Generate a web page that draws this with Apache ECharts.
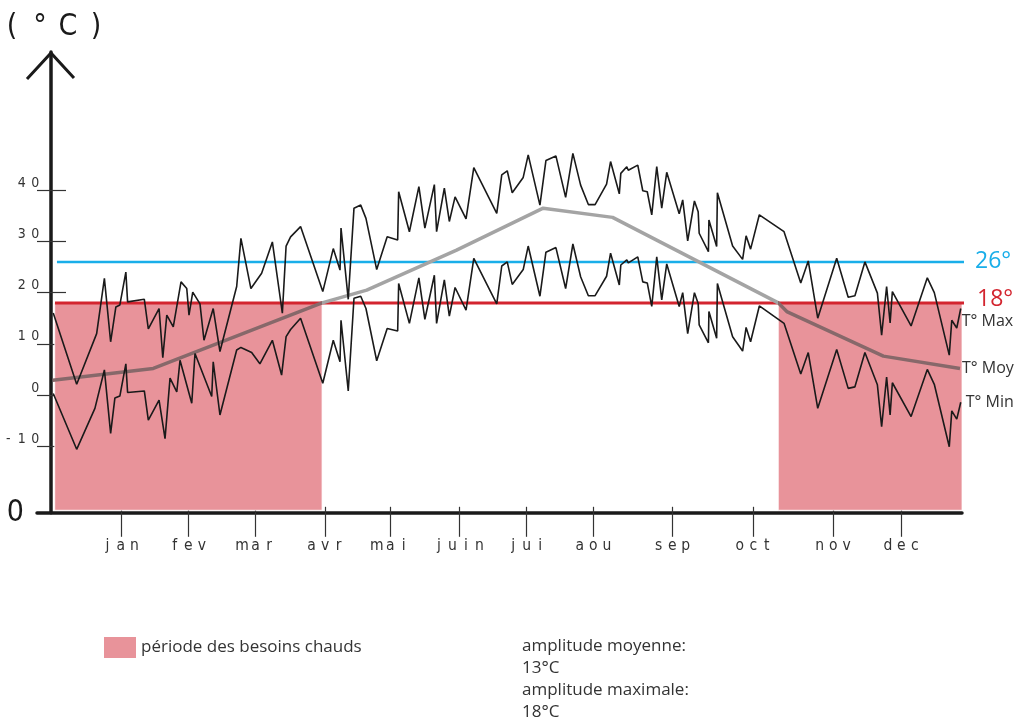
<!DOCTYPE html>
<html>
<head>
<meta charset="utf-8">
<script src="https://cdn.jsdelivr.net/npm/echarts@6/dist/echarts.min.js"></script>
<style>
  html, body { margin: 0; padding: 0; background: #fff; }
  #chart { width: 1025px; height: 719px; }
</style>
</head>
<body>
<div id="chart"></div>
<script>
// Mois (repères de l'axe horizontal, en jours depuis le début de l'année)
const moisNoms = ['jan', 'fev', 'mar', 'avr', 'mai', 'juin', 'jui', 'aou', 'sep', 'oct', 'nov', 'dec'];
const moisPositions = [28.0, 55.0, 82.0, 109.8, 135.9, 163.5, 190.6, 217.3, 248.9, 281.4, 313.4, 340.7];

// Graduations de l'axe des températures (°C)
const graduationsY = [-10, 0, 10, 20, 30, 40];

// Températures maximales
const joursMax = [0.9, 10.3, 18.3, 21.4, 23.9, 26.0, 27.6, 30.0, 30.7, 37.4, 39.0, 43.3, 44.8, 46.4, 49.0, 52.1, 54.4, 55.3, 56.8, 59.7,
  61.3, 65.0, 67.7, 74.4, 76.1, 80.1, 84.4, 88.7, 92.7, 94.2, 96.0, 100.0, 108.9, 113.1, 115.8, 116.2, 119.1, 121.4, 124.1, 126.2,
  130.5, 134.7, 138.9, 139.3, 143.6, 147.4, 149.8, 153.6, 154.5, 157.6, 159.6, 161.9, 166.3, 169.4, 178.6, 180.6, 182.8, 184.8, 189.2, 191.2,
  195.9, 198.3, 202.3, 206.2, 209.1, 212.2, 215.3, 218.0, 222.6, 224.2, 227.7, 228.3, 230.7, 231.3, 235.1, 237.1, 238.9, 240.7, 242.7, 244.7,
  246.7, 251.7, 253.1, 255.1, 257.8, 259.3, 259.7, 263.4, 263.6, 266.7, 267.0, 273.1, 277.1, 278.5, 280.3, 283.8, 293.7, 300.4, 303.4, 307.2,
  314.8, 319.4, 322.1, 326.1, 331.1, 332.8, 334.8, 336.2, 337.1, 344.6, 351.1, 353.9, 359.9, 360.9, 362.9, 364.5];
const tMax = [16.0, 2.1, 12.0, 22.8, 10.4, 17.2, 17.6, 24.0, 18.2, 18.7, 12.9, 16.9, 7.3, 15.6, 13.3, 22.1, 20.8, 15.6, 20.1, 17.8,
  10.7, 16.9, 8.5, 21.2, 30.6, 20.8, 23.8, 29.9, 16.0, 29.1, 30.9, 32.9, 20.2, 28.6, 24.4, 32.6, 18.7, 36.5, 37.1, 34.5,
  24.5, 30.9, 30.3, 39.7, 31.9, 40.7, 32.6, 41.1, 31.9, 40.4, 33.9, 38.7, 34.4, 44.4, 35.5, 43.0, 43.8, 39.5, 42.5, 46.9,
  37.1, 45.8, 46.7, 38.6, 47.2, 41.0, 37.2, 37.2, 41.2, 45.6, 39.3, 43.3, 44.6, 43.9, 44.9, 39.9, 39.7, 35.2, 44.6, 36.5,
  43.5, 35.4, 38.1, 30.1, 37.9, 35.8, 31.6, 28.0, 34.2, 29.0, 39.5, 29.1, 26.5, 31.1, 28.5, 35.2, 31.9, 21.9, 26.2, 15.0,
  26.7, 19.1, 19.4, 26.0, 19.9, 11.7, 21.2, 14.1, 20.2, 13.5, 22.9, 20.0, 7.8, 14.6, 13.1, 16.9];

// Températures minimales
const joursMin = [0.9, 10.3, 17.6, 21.4, 23.9, 25.6, 27.6, 30.0, 30.7, 37.4, 39.0, 43.3, 45.7, 47.7, 50.4, 51.7, 56.4, 57.7, 64.4, 65.0,
  67.7, 74.4, 76.1, 80.4, 83.7, 88.7, 92.4, 94.2, 96.0, 100.0, 108.9, 113.1, 115.8, 116.2, 119.1, 121.4, 124.1, 126.2,
  130.5, 134.7, 138.9, 139.3, 143.6, 147.4, 149.8, 153.6, 154.5, 157.6, 159.6, 161.9, 166.3, 169.4, 178.6, 180.6, 182.8, 184.8, 189.2, 191.2,
  195.9, 198.3, 202.3, 206.2, 209.1, 212.2, 215.3, 218.0, 222.6, 224.2, 227.7, 228.3, 230.7, 231.3, 235.1, 237.1, 238.9, 240.7, 242.7, 244.7,
  246.7, 251.7, 253.1, 255.1, 257.8, 259.3, 259.7, 263.4, 263.6, 266.7, 267.0, 273.1, 277.1, 278.5, 280.3, 283.8, 293.7, 300.4, 303.4, 307.2,
  314.8, 319.4, 322.1, 326.1, 331.1, 332.8, 334.8, 336.2, 337.1, 344.6, 351.1, 353.9, 359.9, 360.9, 362.9, 364.5];
const tMin = [0.3, -10.6, -2.6, 4.9, -7.5, -0.6, -0.2, 6.1, 0.5, 0.8, -4.9, -1.0, -8.5, 3.3, 0.6, 6.8, -1.6, 8.1, -0.3, 6.5,
  -3.9, 8.8, 9.3, 8.3, 6.1, 10.7, 3.9, 11.4, 12.8, 15.0, 2.3, 10.7, 6.5, 14.6, 0.8, 18.9, 19.3, 16.9,
  6.7, 13.0, 12.5, 21.8, 14.0, 22.9, 14.8, 23.4, 14.0, 22.5, 15.4, 21.0, 16.6, 26.7, 17.8, 25.2, 26.0, 21.6, 24.5, 29.1,
  19.3, 27.9, 28.8, 20.8, 29.5, 23.1, 19.4, 19.4, 23.2, 27.7, 21.5, 25.4, 26.4, 25.8, 27.0, 22.1, 21.9, 17.3, 27.0, 18.6,
  25.6, 17.3, 20.0, 12.0, 20.0, 17.9, 13.7, 10.2, 16.3, 11.1, 21.8, 11.4, 8.6, 13.2, 10.4, 17.4, 14.0, 4.1, 8.3, -2.6,
  8.9, 1.3, 1.6, 8.3, 2.0, -6.2, 3.5, -3.9, 2.4, -4.2, 5.0, 2.1, -10.1, -3.1, -4.7, -1.4];

// Température moyenne
const joursMoy = [0.7, 41.0, 108.6, 126.5, 162.5, 197.2, 225.0, 291.4, 294.8, 333.5, 364.2];
const tMoy = [2.9, 5.2, 18.0, 20.5, 28.3, 36.5, 34.7, 18.0, 16.3, 7.6, 5.2];

// Périodes des besoins chauds [début, fin] (jours)
const periodesChaudes = [[1.5, 108.6], [291.4, 365]];

// Seuils de confort (°C)
const seuilChaud = 18;
const seuilFrais = 26;

// Amplitudes (°C)
const amplitudeMoyenne = 13;
const amplitudeMaximale = 18;

const paires = (xs, ys) => xs.map((x, i) => [x, ys[i]]);
const espace = (txt) => String(txt).split('').map(c => '{c|' + c + '}').join('');

const ROSE = '#e8939a';
const ROUGE = '#d3252f';
const BLEU = '#19aee9';
const NOIR = '#1a1a1a';
const POLICE_AXE = "'DejaVu Sans Condensed', 'DejaVu Sans', sans-serif";
const POLICE_TEXTE = "'Open Sans', 'Noto Sans', sans-serif";

const richChiffres = {
  c: { fontFamily: POLICE_AXE, fontSize: 14, color: '#333', width: 13.5, align: 'center' }
};
const richMois = {
  c: { fontFamily: POLICE_AXE, fontSize: 15.5, color: '#333', width: 13.5, align: 'center' }
};

const chart = echarts.init(document.getElementById('chart'), null, { renderer: 'canvas' });

const option = {
  animation: false,
  backgroundColor: '#fff',
  title: {
    text: 'amplitude moyenne:\n' + amplitudeMoyenne + '°C\namplitude maximale:\n' + amplitudeMaximale + '°C',
    left: 522,
    top: 635,
    padding: 0,
    textStyle: { fontFamily: POLICE_TEXTE, fontSize: 17, fontWeight: 'normal', color: '#333', lineHeight: 22 }
  },
  legend: {
    data: ['période des besoins chauds'],
    left: 104,
    top: 637,
    padding: 0,
    icon: 'rect',
    itemWidth: 32,
    itemHeight: 21,
    textStyle: { fontFamily: POLICE_TEXTE, fontSize: 17, color: '#333' }
  },
  grid: { left: 37, right: 63, top: 52, bottom: 206.2, outerBoundsMode: 'none' },
  xAxis: [
    {
      type: 'value', min: -5.6, max: 365, position: 'bottom',
      axisLine: { onZero: false, lineStyle: { color: NOIR, width: 3.5 } },
      axisTick: { customValues: moisPositions, length: 24, lineStyle: { color: '#333', width: 1.2 } },
      axisLabel: {
        customValues: moisPositions,
        margin: 25,
        formatter: (v) => {
          const i = moisPositions.findIndex(p => Math.abs(p - v) < 1e-6);
          return i < 0 ? '' : espace(moisNoms[i]);
        },
        rich: richMois
      },
      splitLine: { show: false }
    },
    {
      type: 'value', min: -5.6, max: 365, position: 'bottom',
      axisLine: { show: false, onZero: false },
      axisTick: { inside: true, customValues: moisPositions, length: 6, lineStyle: { color: '#333', width: 1.2 } },
      axisLabel: { show: false },
      splitLine: { show: false }
    }
  ],
  yAxis: [
    {
      type: 'value', min: -23, max: 67, position: 'left',
      name: '{p|(}{p|°}{p|C}{p|)}',
      nameLocation: 'end',
      nameGap: 10,
      nameTextStyle: {
        padding: [0, 0, 0, 6],
        rich: { p: { fontFamily: POLICE_AXE, fontSize: 30, color: NOIR, width: 28, align: 'center' } }
      },
      axisLine: { onZero: true, lineStyle: { color: NOIR, width: 3.5 } },
      axisTick: { customValues: graduationsY, length: 14, lineStyle: { color: '#333', width: 1.2 } },
      axisLabel: {
        customValues: graduationsY,
        margin: -5,
        verticalAlign: 'bottom',
        formatter: (v) => espace(v),
        rich: richChiffres
      },
      splitLine: { show: false }
    },
    {
      type: 'value', min: -23, max: 67, position: 'left',
      axisLine: { show: false, onZero: true },
      axisTick: { inside: true, customValues: graduationsY, length: 15, lineStyle: { color: '#333', width: 1.2 } },
      axisLabel: {
        customValues: [-23],
        margin: 13,
        verticalAlign: 'middle',
        formatter: () => '0',
        fontFamily: POLICE_AXE, fontSize: 30, color: NOIR
      },
      splitLine: { show: false }
    }
  ],
  visualMap: {
    type: 'piecewise',
    show: false,
    dimension: 0,
    seriesIndex: 3,
    pieces: [
      { lt: periodesChaudes[0][1], color: '#87686a' },
      { gte: periodesChaudes[0][1], lt: periodesChaudes[1][0], color: '#a4a4a4' },
      { gte: periodesChaudes[1][0], color: '#87686a' }
    ]
  },
  series: [
    {
      name: 'période des besoins chauds',
      type: 'custom',
      z: 1,
      silent: true,
      itemStyle: { color: ROSE },
      data: periodesChaudes,
      renderItem: (params, api) => {
        const p0 = api.coord([api.value(0), seuilChaud]);
        const p1 = api.coord([api.value(1), -22.5]);
        return {
          type: 'rect',
          shape: { x: p0[0], y: p0[1], width: p1[0] - p0[0], height: p1[1] - p0[1] },
          style: { fill: ROSE, stroke: 'rgba(255,255,255,0.75)', lineWidth: 1 }
        };
      }
    },
    {
      name: 'seuil 18',
      type: 'line',
      z: 2,
      silent: true,
      clip: false,
      symbol: 'none',
      data: [[1.6, seuilChaud], [366.6, seuilChaud]],
      lineStyle: { color: ROUGE, width: 3 },
      endLabel: {
        show: true, formatter: () => seuilChaud + '°\n', distance: 13, lineHeight: 6,
        color: ROUGE, fontFamily: POLICE_TEXTE, fontSize: 23
      }
    },
    {
      name: 'seuil 26',
      type: 'line',
      z: 2,
      silent: true,
      clip: false,
      symbol: 'none',
      data: [[2.4, seuilFrais], [367.4, seuilFrais]],
      lineStyle: { color: BLEU, width: 2.5 },
      endLabel: {
        show: true, formatter: () => seuilFrais + '°', distance: 11,
        color: BLEU, fontFamily: POLICE_TEXTE, fontSize: 23
      }
    },
    {
      name: 'T° Moy',
      type: 'line',
      z: 3,
      silent: true,
      symbol: 'none',
      data: paires(joursMoy, tMoy),
      lineStyle: { width: 3.5 },
      endLabel: {
        show: true, formatter: 'T° Moy', distance: 2,
        color: '#333', fontFamily: POLICE_TEXTE, fontSize: 16
      }
    },
    {
      name: 'T° Max',
      type: 'line',
      z: 4,
      silent: true,
      symbol: 'none',
      data: paires(joursMax, tMax),
      lineStyle: { color: NOIR, width: 1.6 },
      endLabel: {
        show: true, formatter: '\nT° Max', distance: 1, lineHeight: 26,
        color: '#333', fontFamily: POLICE_TEXTE, fontSize: 16
      }
    },
    {
      name: 'T° Min',
      type: 'line',
      z: 4,
      silent: true,
      symbol: 'none',
      data: paires(joursMin, tMin),
      lineStyle: { color: NOIR, width: 1.6 },
      endLabel: {
        show: true, formatter: 'T° Min', distance: 5,
        color: '#333', fontFamily: POLICE_TEXTE, fontSize: 16
      }
    }
  ]
};

chart.setOption(option);

// Flèche ouverte au sommet de l'axe des températures
const sommet = chart.convertToPixel({ xAxisIndex: 0, yAxisIndex: 0 }, [0, 67]);
chart.setOption({
  graphic: [{
    type: 'polyline',
    z: 10,
    silent: true,
    shape: { points: [[sommet[0] - 24, sommet[1] + 27], [sommet[0], sommet[1] + 1], [sommet[0] + 23, sommet[1] + 26]] },
    style: { stroke: NOIR, lineWidth: 3, fill: null, lineJoin: 'miter' }
  }]
});
</script>
</body>
</html>
